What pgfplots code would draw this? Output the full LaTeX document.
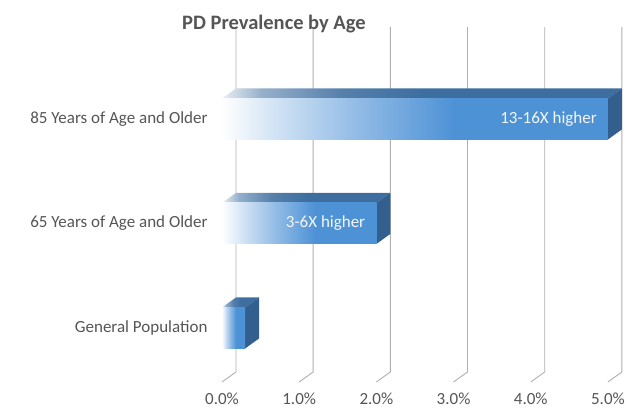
\documentclass[border=0pt]{standalone}
\usepackage{pgfplots}
\pgfplotsset{compat=1.18}
\usepackage{fontspec}
\setmainfont{Carlito}
\definecolor{barblue}{RGB}{78,146,214}
\definecolor{topblue}{RGB}{62,110,160}
\definecolor{sideblue}{RGB}{50,95,142}
\definecolor{txt}{RGB}{85,85,85}
\definecolor{gridc}{RGB}{175,175,175}
\pgfdeclarehorizontalshading{barfade}{100bp}{color(0bp)=(white); color(25bp)=(white); color(32.5bp)=(barblue!28); color(42.5bp)=(barblue!62); color(55bp)=(barblue); color(100bp)=(barblue)}
\pgfdeclarehorizontalshading{topfade}{100bp}{color(0bp)=(white); color(25bp)=(topblue!12); color(30bp)=(topblue!55); color(40bp)=(topblue!88); color(50bp)=(topblue); color(100bp)=(topblue)}
\pgfplotsset{frontbar/.style={xbar, bar width=0.392, draw=none, shade, shading=barfade,
  point meta=explicit symbolic, nodes near coords,
  nodes near coords style={anchor=east, xshift=-11bp, inner sep=0pt, text=white!92!gray, font=\fontsize{17bp}{20bp}\selectfont}}}
\begin{document}
\begin{tikzpicture}[font=\fontsize{17bp}{20bp}\selectfont]
\path[use as bounding box] (-222bp,-29.7bp) rectangle (407bp,382.3bp);
\begin{axis}[at={(0,0)}, anchor=south west, scale only axis,
  width=401.4bp, height=355.3bp,
  xmin=0, xmax=5.2, ymin=-0.52, ymax=2.88,
  clip=false, no markers,
  axis line style={draw=none}, tick style={draw=none}, major tick length=0pt,
  xtick={0,1,2,3,4,5},
  xticklabels={{0.0\%},{1.0\%},{2.0\%},{3.0\%},{4.0\%},{5.0\%}},
  ytick={0,1,2},
  yticklabels={{General Population},{65 Years of Age and Older},{85 Years of Age and Older}},
  tick label style={font=\fontsize{17bp}{20bp}\selectfont, text=txt},
  yticklabel style={xshift=-11bp},
  xticklabel style={yshift=-7bp},
]
% 3D gridlines (back wall + floor)
\addplot[gridc, line width=0.9pt] coordinates {(0.181,2.88) (0.181,-0.421) (0,-0.517)};
\addplot[gridc, line width=0.9pt] coordinates {(1.181,2.88) (1.181,-0.421) (1,-0.517)};
\addplot[gridc, line width=0.9pt] coordinates {(2.181,2.88) (2.181,-0.421) (2,-0.517)};
\addplot[gridc, line width=0.9pt] coordinates {(3.181,2.88) (3.181,-0.421) (3,-0.517)};
\addplot[gridc, line width=0.9pt] coordinates {(4.181,2.88) (4.181,-0.421) (4,-0.517)};
\addplot[gridc, line width=0.9pt] coordinates {(5.181,2.88) (5.181,-0.421) (5,-0.517)};
% top faces
\addplot[draw=none, shade, shading=topfade] coordinates {(0,0.196) (0.3,0.196) (0.481,0.292) (0.181,0.292) (0,0.196)};
\addplot[draw=none, shade, shading=topfade] coordinates {(0,1.196) (2.0,1.196) (2.181,1.292) (0.181,1.292) (0,1.196)};
\addplot[draw=none, shade, shading=topfade] coordinates {(0,2.196) (5.0,2.196) (5.181,2.292) (0.181,2.292) (0,2.196)};
% side faces
\addplot[draw=none, fill=sideblue] coordinates {(0.3,-0.196) (0.3,0.196) (0.481,0.292) (0.481,-0.1) (0.3,-0.196)};
\addplot[draw=none, fill=sideblue] coordinates {(2.0,0.804) (2.0,1.196) (2.181,1.292) (2.181,0.9) (2.0,0.804)};
\addplot[draw=none, fill=sideblue] coordinates {(5.0,1.804) (5.0,2.196) (5.181,2.292) (5.181,1.9) (5.0,1.804)};
% front faces, one plot per bar so each bar gets its own gradient
\addplot[xbar, bar width=0.392, draw=none, shade, shading=barfade] coordinates {(0.3,0)};
\addplot[frontbar] coordinates {(2.0,1) [3-6X higher]};
\addplot[frontbar] coordinates {(5.0,2) [13-16X higher]};
\end{axis}
\node[text=txt, font=\fontsize{20.5bp}{24bp}\selectfont\bfseries] at (52bp,358bp) {PD Prevalence by Age};
\end{tikzpicture}
\end{document}
